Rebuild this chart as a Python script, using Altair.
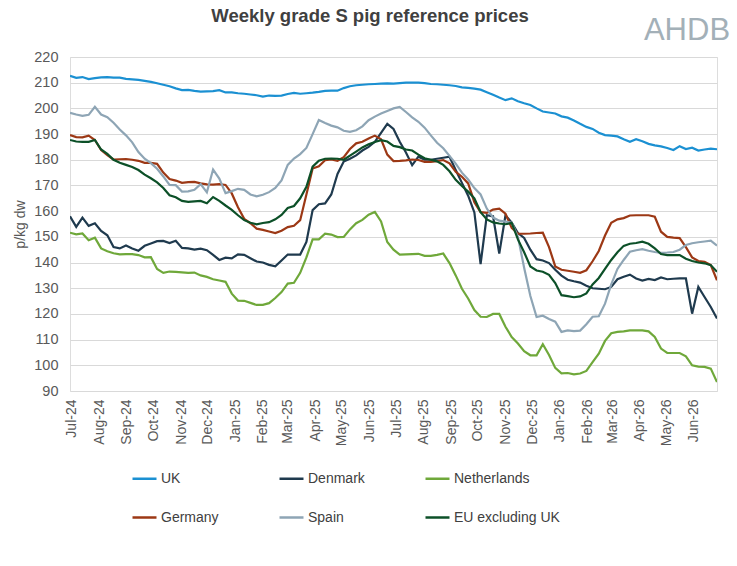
import altair as alt
import pandas as pd

# Weekly grade S pig reference prices, p/kg deadweight, week ending Saturday
weeks = pd.date_range("2024-06-29", periods=105, freq="7D").strftime("%Y-%m-%d").tolist()

uk = [
    212.7, 211.9, 212.2, 211.4, 211.8, 212.1, 212.2, 212.0, 212.0, 211.5,
    211.3, 211.1, 210.7, 210.3, 209.8, 209.2, 208.6, 207.8, 207.1, 207.2,
    206.8, 206.5, 206.6, 206.7, 207.1, 206.2, 206.2, 205.9, 205.7, 205.4,
    205.1, 204.6, 205.0, 204.9, 205.0, 205.6, 206.0, 205.7, 205.9, 206.1,
    206.4, 206.8, 206.9, 206.9, 207.9, 208.6, 209.0, 209.2, 209.4, 209.5,
    209.6, 209.7, 209.6, 209.8, 210.0, 210.0, 210.0, 209.8, 209.5, 209.4,
    209.2, 209.0, 208.7, 208.2, 208.0, 207.7, 207.3, 206.3, 205.3, 204.2,
    203.2, 203.9, 202.8, 202.0, 201.3, 200.0, 198.8, 198.4, 198.0, 196.9,
    196.4, 195.3, 194.0, 192.8, 192.0, 190.5, 189.6, 189.4, 189.1, 188.0,
    187.0, 188.0, 187.2, 186.2, 185.6, 185.2, 184.6, 183.8, 185.3, 184.2,
    184.7, 183.6, 184.0, 184.3, 184.1,
]

denmark = [
    158.0, 153.9, 157.5, 154.3, 155.3, 152.3, 150.6, 146.0, 145.5, 146.6,
    145.5, 144.6, 146.5, 147.4, 148.3, 148.4, 147.6, 148.5, 145.7, 145.5,
    145.0, 145.4, 144.8, 143.0, 141.0, 141.9, 141.6, 143.2, 143.0, 141.7,
    140.4, 140.0, 139.1, 138.5, 140.8, 143.1, 143.1, 143.1, 148.0, 160.4,
    162.7, 163.0, 166.5, 174.5, 179.3, 180.4, 181.7, 183.6, 185.0, 187.0,
    190.5, 194.0, 192.0, 187.0, 182.8, 177.9, 181.2, 180.0, 180.0, 180.4,
    180.8, 181.2, 176.0, 171.0, 166.0, 159.5, 139.4, 158.4, 158.0, 143.5,
    158.4, 155.5, 151.5, 149.6, 145.0, 141.3, 140.8, 139.8, 137.2, 134.9,
    133.3, 132.7, 132.2, 131.0, 130.0, 129.8, 129.6, 130.5, 133.5, 134.5,
    135.3, 133.8, 133.0, 133.6, 133.2, 134.2, 133.5, 133.7, 133.8, 133.8,
    120.1, 130.5, 126.6, 122.7, 118.2,
]

netherlands = [
    151.6, 151.0, 151.3, 148.7, 149.7, 145.5, 144.4, 143.6, 143.2, 143.3,
    143.3, 142.9, 142.0, 142.1, 137.5, 136.0, 136.5, 136.4, 136.2, 136.0,
    136.1, 135.0, 134.4, 133.5, 133.0, 132.5, 127.9, 125.2, 125.1, 124.3,
    123.5, 123.5, 124.2, 126.2, 128.5, 131.8, 132.1, 136.0, 142.0, 149.0,
    149.0, 151.2, 150.9, 149.9, 150.0, 152.9, 155.3, 156.6, 158.6, 159.7,
    156.0, 148.0, 145.0, 143.1, 143.2, 143.3, 143.4, 142.6, 142.6, 143.0,
    143.5, 139.8, 135.0, 129.8, 126.0, 121.5, 118.9, 118.8, 120.0, 120.0,
    115.0, 111.0, 108.5, 105.5, 103.9, 103.9, 108.2, 104.0, 99.0, 96.9,
    97.0, 96.5, 96.8, 97.8, 101.2, 104.5, 109.5, 112.5, 113.0, 113.2,
    113.6, 113.6, 113.6, 113.2, 111.0, 106.5, 104.8, 104.8, 104.8, 103.5,
    100.0, 99.5, 99.4, 98.7, 93.5,
]

germany = [
    189.6, 188.8, 188.7, 189.4, 187.7, 183.8, 181.8, 180.1, 180.2, 180.3,
    180.0, 179.6, 178.8, 178.8, 178.4, 175.0, 172.5, 171.9, 171.0, 171.3,
    171.4, 170.8, 170.4, 170.3, 170.5, 170.2, 166.9, 161.5, 157.0, 155.3,
    153.2, 152.7, 152.1, 151.5, 152.4, 153.8, 154.3, 156.5, 166.5, 176.6,
    177.5, 179.8, 180.1, 179.6, 181.0, 184.2, 186.4, 187.0, 188.3, 189.4,
    188.0, 182.0, 179.5, 179.6, 179.8, 180.1, 179.9, 179.2, 179.2, 179.5,
    179.9, 178.6, 175.3, 173.4, 170.8, 163.5, 159.6, 159.3, 160.6, 161.0,
    159.0, 153.5, 151.2, 151.2, 151.3, 151.5, 151.6, 146.0, 138.5, 137.2,
    136.8, 136.4, 136.0, 137.0, 140.5, 144.5, 150.5, 155.5, 156.8, 157.3,
    158.3, 158.4, 158.4, 158.4, 157.8, 152.0, 150.0, 149.7, 149.5, 146.0,
    142.0, 140.6, 140.3, 139.0, 133.1,
]

spain = [
    198.3, 197.6, 197.1, 197.5, 200.6, 197.6, 196.6, 194.4, 191.8, 189.5,
    186.8, 183.0, 180.4, 178.7, 176.5, 173.5, 170.2, 170.1, 167.6, 167.7,
    168.3, 170.5, 167.3, 176.2, 172.7, 167.0, 167.8, 168.7, 168.3, 166.5,
    165.8, 166.4, 167.4, 169.0, 172.0, 178.0, 180.5, 182.2, 184.6, 190.0,
    195.5, 194.3, 193.3, 192.6, 191.3, 190.9, 191.5, 193.0, 195.4, 196.8,
    198.0, 199.0, 200.0, 200.6, 198.6, 196.5, 194.8, 192.5, 189.5, 186.6,
    184.5, 181.5, 178.5, 175.0, 172.3, 169.0, 166.5, 161.0, 157.5, 156.3,
    155.9, 155.5, 150.0, 138.0, 127.0, 118.8, 119.3, 118.0, 117.0, 113.0,
    113.6, 113.3, 113.5, 116.0, 118.9, 119.1, 124.0, 131.5, 137.5, 141.0,
    144.2, 144.8, 145.2, 144.6, 144.1, 143.8, 143.9, 144.1, 145.0, 146.8,
    147.5, 147.9, 148.2, 148.5, 146.6,
]

eu_ex_uk = [
    187.7, 187.1, 187.0, 187.0, 187.7, 184.0, 182.3, 180.0, 178.8, 178.0,
    177.2, 176.0, 174.2, 172.8, 171.2, 169.0, 166.2, 165.4, 164.0, 163.6,
    163.8, 164.0, 163.1, 165.5, 164.0, 162.2, 160.5, 158.4, 156.5, 155.5,
    154.9, 155.4, 155.7, 156.8, 158.5, 161.2, 162.0, 165.0, 169.5, 177.3,
    179.6, 180.4, 180.5, 180.4, 180.0, 181.6, 183.2, 184.8, 186.0, 186.9,
    187.6, 187.1, 185.4, 184.9, 184.0, 183.6, 182.0, 180.6, 180.0, 179.4,
    178.0, 175.5, 172.2, 169.8, 167.6, 165.0, 159.6, 156.8, 155.6, 155.2,
    154.9, 155.4, 149.0, 144.0, 138.5, 136.9, 136.4, 135.2, 132.0, 127.3,
    126.9, 126.5, 126.8, 128.0, 131.5, 134.0, 137.5, 141.0, 144.0, 146.5,
    147.3, 147.6, 148.1, 147.3, 145.5, 143.3, 142.9, 142.9, 142.9, 141.5,
    140.6, 140.0, 139.7, 139.0, 136.4,
]

series_names = ["UK", "Denmark", "Netherlands", "Germany", "Spain", "EU excluding UK"]
series_values = [uk, denmark, netherlands, germany, spain, eu_ex_uk]
series_colors = ["#1b90d2", "#1f3a4e", "#6fa83a", "#9c3815", "#8ea5b5", "#0c5028"]

rows = []
for name, values in zip(series_names, series_values):
    for week, price in zip(weeks, values):
        rows.append({"week": week, "country": name, "price": price})
prices = pd.DataFrame(rows)

FONT = "Liberation Sans"
TEXT = "#595959"

lines = alt.Chart(prices).mark_line(strokeWidth=2.2, clip=True).encode(
    x=alt.X(
        "week:T",
        scale=alt.Scale(
            type="utc",
            domain=[alt.DateTime(year=2024, month=6, date=29, utc=True),
                    alt.DateTime(year=2026, month=6, date=27, utc=True)],
            nice=False,
        ),
        axis=alt.Axis(
            title=None, labelExpr="utcFormat(datum.value, '%b-%y')", labelAngle=-90,
            tickCount=alt.TimeIntervalStep(interval="month", step=1),
            grid=False, domain=False, ticks=False, labelPadding=8,
            labelFont=FONT, labelFontSize=14, labelColor=TEXT, labelOverlap=False,
        ),
    ),
    y=alt.Y(
        "price:Q",
        scale=alt.Scale(domain=[90, 220], nice=False, zero=False),
        axis=alt.Axis(
            title="p/kg dw", values=list(range(90, 221, 10)),
            grid=True, gridColor="#d9d9d9", gridWidth=1,
            domain=False, ticks=False, labelPadding=12,
            labelFont=FONT, labelFontSize=14.5, labelColor=TEXT,
            titleFont=FONT, titleFontSize=14, titleFontWeight="normal",
            titleColor=TEXT, titlePadding=6,
        ),
    ),
    color=alt.Color(
        "country:N",
        scale=alt.Scale(domain=series_names, range=series_colors),
        legend=alt.Legend(
            title=None, orient="none", legendX=61, legendY=408,
            direction="horizontal", columns=3, columnPadding=55, rowPadding=18,
            symbolType="stroke", symbolSize=576, symbolStrokeWidth=2.5,
            labelFont=FONT, labelFontSize=14, labelColor="#404040", labelOffset=3,
        ),
    ),
)

# Chart heading and the AHDB brand mark above the plot area
heading = alt.Chart(pd.DataFrame({"label": ["Weekly grade S pig reference prices"]})).mark_text(
    font=FONT, fontSize=18.5, fontWeight="bold", color="#404040",
    align="center", baseline="middle",
).encode(text="label:N", x=alt.value(300), y=alt.value(-41))

logo = alt.Chart(pd.DataFrame({"brand": ["AHDB"]})).mark_text(
    font="Liberation Sans Narrow, Liberation Sans", fontSize=31, color="#a3b0b8",
    align="center", baseline="middle",
).encode(text="brand:N", x=alt.value(617), y=alt.value(-26))

chart = alt.layer(lines, heading, logo).properties(
    width=647,
    height=334,
    padding={"left": 70, "top": 57, "right": 20, "bottom": 175},
    autosize=alt.AutoSizeParams(type="none"),
).configure_view(stroke=None).configure(background="white")

chart.save("out.html", embed_options={"renderer": "svg", "actions": False})
